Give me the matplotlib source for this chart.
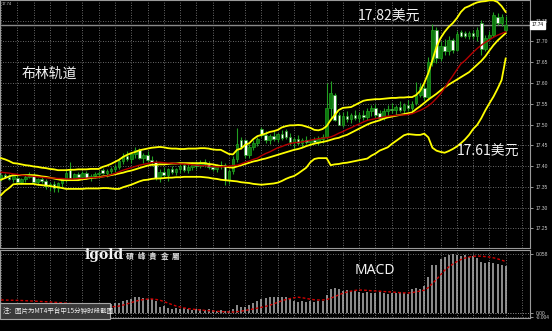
import numpy as np
import matplotlib
matplotlib.use('Agg')
import matplotlib.pyplot as plt
from matplotlib.patches import Rectangle
import matplotlib.transforms as mtransforms

plt.rcParams['font.family'] = ['Noto Sans CJK SC', 'DejaVu Sans']

##------------------------------------------
# XAGUSD M15 candles (15 Jun - 16 Jun)
opens = [17.372, 17.378, 17.374, 17.369, 17.372, 17.362, 17.368, 17.374, 17.379, 17.362,
         17.368, 17.364, 17.351, 17.357, 17.346, 17.358, 17.368, 17.390, 17.372, 17.380,
         17.374, 17.383, 17.371, 17.376, 17.381, 17.391, 17.384, 17.388, 17.394, 17.398,
         17.412, 17.424, 17.418, 17.428, 17.439, 17.420, 17.426, 17.415, 17.410, 17.371,
         17.386, 17.378, 17.392, 17.386, 17.392, 17.403, 17.391, 17.398, 17.404, 17.400,
         17.410, 17.404, 17.398, 17.394, 17.402, 17.403, 17.366, 17.388, 17.418, 17.463,
         17.463, 17.427, 17.446, 17.456, 17.489, 17.475, 17.462, 17.472, 17.466, 17.476,
         17.484, 17.470, 17.458, 17.464, 17.456, 17.462, 17.458, 17.462, 17.458, 17.466,
         17.470, 17.540, 17.571, 17.523, 17.500, 17.520, 17.514, 17.522, 17.516, 17.524,
         17.518, 17.532, 17.540, 17.527, 17.516, 17.532, 17.538, 17.534, 17.542, 17.536,
         17.546, 17.540, 17.552, 17.572, 17.588, 17.566, 17.650, 17.728, 17.660, 17.690,
         17.676, 17.703, 17.680, 17.722, 17.720, 17.712, 17.720, 17.712, 17.745, 17.682,
         17.708, 17.716, 17.760, 17.744, 17.728]
highs = [17.381, 17.384, 17.380, 17.378, 17.380, 17.372, 17.378, 17.386, 17.383, 17.372,
         17.376, 17.368, 17.362, 17.365, 17.362, 17.372, 17.390, 17.410, 17.384, 17.386,
         17.388, 17.388, 17.380, 17.386, 17.388, 17.395, 17.392, 17.398, 17.404, 17.420,
         17.432, 17.436, 17.434, 17.446, 17.444, 17.432, 17.436, 17.424, 17.414, 17.392,
         17.398, 17.395, 17.400, 17.396, 17.404, 17.408, 17.404, 17.410, 17.412, 17.414,
         17.418, 17.412, 17.406, 17.406, 17.412, 17.408, 17.392, 17.425, 17.492, 17.470,
         17.466, 17.452, 17.462, 17.470, 17.494, 17.484, 17.478, 17.484, 17.480, 17.486,
         17.488, 17.480, 17.470, 17.474, 17.468, 17.472, 17.466, 17.470, 17.472, 17.476,
         17.600, 17.605, 17.575, 17.530, 17.530, 17.532, 17.528, 17.536, 17.530, 17.534,
         17.540, 17.548, 17.550, 17.534, 17.540, 17.546, 17.552, 17.548, 17.556, 17.552,
         17.558, 17.556, 17.602, 17.600, 17.598, 17.662, 17.742, 17.735, 17.700, 17.705,
         17.712, 17.708, 17.725, 17.728, 17.726, 17.724, 17.728, 17.735, 17.752, 17.716,
         17.724, 17.770, 17.768, 17.765, 17.762]
lows = [17.365, 17.370, 17.366, 17.362, 17.360, 17.357, 17.362, 17.370, 17.358, 17.355,
        17.360, 17.345, 17.340, 17.338, 17.337, 17.350, 17.362, 17.368, 17.366, 17.368,
        17.370, 17.368, 17.363, 17.370, 17.372, 17.380, 17.374, 17.380, 17.386, 17.392,
        17.404, 17.412, 17.408, 17.420, 17.416, 17.408, 17.410, 17.400, 17.366, 17.362,
        17.370, 17.364, 17.380, 17.378, 17.384, 17.386, 17.384, 17.390, 17.394, 17.396,
        17.398, 17.392, 17.388, 17.386, 17.394, 17.354, 17.356, 17.380, 17.410, 17.440,
        17.420, 17.420, 17.438, 17.448, 17.470, 17.456, 17.454, 17.460, 17.458, 17.462,
        17.466, 17.450, 17.444, 17.450, 17.446, 17.452, 17.448, 17.452, 17.450, 17.456,
        17.466, 17.510, 17.508, 17.500, 17.494, 17.506, 17.504, 17.510, 17.506, 17.512,
        17.512, 17.520, 17.516, 17.512, 17.510, 17.520, 17.528, 17.524, 17.530, 17.528,
        17.532, 17.530, 17.548, 17.566, 17.560, 17.560, 17.640, 17.648, 17.652, 17.668,
        17.668, 17.672, 17.676, 17.710, 17.708, 17.706, 17.706, 17.700, 17.667, 17.676,
        17.700, 17.710, 17.740, 17.738, 17.722]
closes = [17.378, 17.374, 17.369, 17.375, 17.362, 17.368, 17.374, 17.382, 17.362, 17.368,
          17.365, 17.351, 17.357, 17.346, 17.358, 17.368, 17.384, 17.372, 17.380, 17.374,
          17.383, 17.371, 17.376, 17.381, 17.384, 17.384, 17.388, 17.394, 17.398, 17.412,
          17.424, 17.418, 17.428, 17.439, 17.420, 17.426, 17.415, 17.410, 17.371, 17.386,
          17.378, 17.392, 17.386, 17.392, 17.400, 17.391, 17.398, 17.404, 17.400, 17.410,
          17.404, 17.398, 17.394, 17.402, 17.403, 17.366, 17.388, 17.418, 17.452, 17.446,
          17.427, 17.446, 17.456, 17.466, 17.475, 17.462, 17.472, 17.466, 17.476, 17.468,
          17.470, 17.458, 17.464, 17.456, 17.462, 17.458, 17.462, 17.458, 17.466, 17.470,
          17.540, 17.575, 17.512, 17.500, 17.520, 17.514, 17.522, 17.516, 17.524, 17.518,
          17.532, 17.540, 17.522, 17.516, 17.532, 17.538, 17.534, 17.542, 17.536, 17.546,
          17.540, 17.550, 17.572, 17.590, 17.566, 17.650, 17.728, 17.660, 17.690, 17.676,
          17.703, 17.680, 17.718, 17.714, 17.712, 17.720, 17.712, 17.728, 17.682, 17.708,
          17.716, 17.764, 17.744, 17.758, 17.740]

# Bollinger bands (yellow) and moving average (red)
bb_upper = [17.419, 17.416, 17.412, 17.407, 17.406, 17.404, 17.402, 17.401, 17.399, 17.398,
            17.396, 17.395, 17.393, 17.392, 17.390, 17.390, 17.390, 17.391, 17.391, 17.392,
            17.392, 17.392, 17.393, 17.393, 17.393, 17.398, 17.401, 17.405, 17.410, 17.415,
            17.422, 17.427, 17.431, 17.434, 17.438, 17.440, 17.442, 17.444, 17.445, 17.446,
            17.445, 17.443, 17.442, 17.442, 17.441, 17.441, 17.442, 17.442, 17.442, 17.443,
            17.443, 17.442, 17.440, 17.439, 17.439, 17.434, 17.429, 17.428, 17.439, 17.442,
            17.451, 17.455, 17.465, 17.472, 17.475, 17.478, 17.482, 17.484, 17.487, 17.493,
            17.496, 17.498, 17.498, 17.499, 17.498, 17.495, 17.492, 17.487, 17.486, 17.489,
            17.496, 17.511, 17.523, 17.535, 17.540, 17.541, 17.542, 17.547, 17.552, 17.557,
            17.559, 17.560, 17.561, 17.561, 17.562, 17.563, 17.564, 17.564, 17.565, 17.565,
            17.566, 17.566, 17.571, 17.581, 17.600, 17.624, 17.655, 17.687, 17.708, 17.723,
            17.735, 17.744, 17.756, 17.771, 17.781, 17.785, 17.790, 17.794, 17.796, 17.797,
            17.799, 17.799, 17.795, 17.785, 17.771]
bb_mid = [17.367, 17.371, 17.375, 17.378, 17.378, 17.378, 17.378, 17.378, 17.378, 17.377,
          17.375, 17.374, 17.372, 17.370, 17.368, 17.366, 17.366, 17.366, 17.366, 17.366,
          17.368, 17.369, 17.371, 17.372, 17.373, 17.375, 17.376, 17.378, 17.380, 17.382,
          17.384, 17.387, 17.389, 17.392, 17.395, 17.398, 17.401, 17.403, 17.403, 17.404,
          17.404, 17.405, 17.406, 17.406, 17.407, 17.407, 17.407, 17.407, 17.407, 17.407,
          17.407, 17.405, 17.404, 17.402, 17.400, 17.399, 17.397, 17.396, 17.399, 17.402,
          17.405, 17.408, 17.411, 17.413, 17.416, 17.418, 17.421, 17.424, 17.427, 17.430,
          17.433, 17.436, 17.439, 17.441, 17.444, 17.448, 17.451, 17.454, 17.456, 17.458,
          17.460, 17.463, 17.466, 17.468, 17.472, 17.475, 17.480, 17.485, 17.490, 17.495,
          17.500, 17.504, 17.507, 17.510, 17.514, 17.517, 17.519, 17.521, 17.523, 17.525,
          17.527, 17.529, 17.537, 17.544, 17.552, 17.560, 17.567, 17.574, 17.582, 17.589,
          17.596, 17.602, 17.608, 17.614, 17.620, 17.626, 17.635, 17.644, 17.653, 17.664,
          17.678, 17.691, 17.702, 17.711, 17.720]
bb_lower = [17.330, 17.340, 17.347, 17.356, 17.357, 17.357, 17.357, 17.357, 17.357, 17.355,
            17.354, 17.353, 17.352, 17.350, 17.349, 17.347, 17.345, 17.345, 17.345, 17.345,
            17.345, 17.346, 17.346, 17.346, 17.346, 17.347, 17.347, 17.346, 17.345, 17.345,
            17.349, 17.352, 17.355, 17.359, 17.363, 17.366, 17.367, 17.369, 17.370, 17.370,
            17.371, 17.372, 17.372, 17.373, 17.373, 17.374, 17.374, 17.374, 17.374, 17.374,
            17.373, 17.372, 17.370, 17.369, 17.367, 17.366, 17.365, 17.364, 17.363, 17.361,
            17.360, 17.359, 17.357, 17.356, 17.355, 17.356, 17.357, 17.358, 17.360, 17.364,
            17.369, 17.373, 17.376, 17.382, 17.389, 17.396, 17.409, 17.417, 17.419, 17.419,
            17.419, 17.402, 17.404, 17.405, 17.407, 17.408, 17.410, 17.412, 17.414, 17.416,
            17.418, 17.425, 17.430, 17.437, 17.441, 17.445, 17.453, 17.460, 17.467, 17.474,
            17.477, 17.476, 17.475, 17.475, 17.478, 17.469, 17.444, 17.437, 17.434, 17.432,
            17.436, 17.441, 17.447, 17.455, 17.464, 17.475, 17.489, 17.499, 17.515, 17.534,
            17.551, 17.567, 17.586, 17.607, 17.659]
ma_red = [17.385, 17.384, 17.383, 17.381, 17.380, 17.378, 17.377, 17.376, 17.375, 17.374,
          17.373, 17.372, 17.371, 17.371, 17.370, 17.370, 17.369, 17.369, 17.369, 17.370,
          17.370, 17.371, 17.372, 17.372, 17.373, 17.374, 17.376, 17.379, 17.382, 17.386,
          17.390, 17.393, 17.396, 17.399, 17.402, 17.404, 17.406, 17.408, 17.409, 17.409,
          17.408, 17.407, 17.407, 17.406, 17.405, 17.405, 17.404, 17.403, 17.402, 17.401,
          17.401, 17.400, 17.399, 17.398, 17.398, 17.399, 17.400, 17.401, 17.402, 17.405,
          17.409, 17.412, 17.416, 17.419, 17.425, 17.430, 17.434, 17.439, 17.444, 17.447,
          17.451, 17.454, 17.456, 17.457, 17.458, 17.460, 17.462, 17.464, 17.466, 17.467,
          17.468, 17.470, 17.474, 17.479, 17.483, 17.488, 17.492, 17.497, 17.501, 17.506,
          17.510, 17.512, 17.514, 17.516, 17.518, 17.520, 17.521, 17.522, 17.523, 17.523,
          17.524, 17.526, 17.530, 17.534, 17.539, 17.545, 17.553, 17.563, 17.574, 17.588,
          17.603, 17.617, 17.632, 17.646, 17.654, 17.664, 17.674, 17.683, 17.691, 17.698,
          17.704, 17.710, 17.715, 17.719, 17.723]

# MACD window
macd_hist = [0.009, 0.010, 0.009, 0.008, 0.009, 0.008, 0.007, 0.008, 0.007, 0.006,
             0.007, 0.006, 0.005, 0.006, 0.005, 0.006, 0.005, 0.006, 0.007, 0.006,
             0.007, 0.006, 0.007, 0.008, 0.007, 0.008, 0.008, 0.009,
             0.0098, 0.010, 0.0118, 0.013, 0.014, 0.0157, 0.0157, 0.015, 0.0138, 0.0138, 0.012, 0.006,
             0.007, 0.005, 0.004, 0.0045, 0.004, 0.005, 0.004, 0.003, 0.004, 0.0035,
             0.003, 0.004, 0.003, 0.002, 0.003, 0.0015, 0.002, 0.004, 0.008, 0.006,
             0.006, 0.008, 0.010, 0.012, 0.014, 0.015, 0.016, 0.0157, 0.016, 0.0155,
             0.016, 0.015, 0.012, 0.011, 0.012, 0.011, 0.012, 0.011, 0.012, 0.012,
             0.018, 0.024, 0.025, 0.024, 0.022, 0.023, 0.022, 0.022, 0.021, 0.020,
             0.021, 0.020, 0.020, 0.021, 0.020, 0.019, 0.020, 0.020, 0.021, 0.020,
             0.019, 0.024, 0.025, 0.024, 0.027, 0.035, 0.047, 0.047, 0.053, 0.055,
             0.057, 0.058, 0.057, 0.056, 0.057, 0.055, 0.056, 0.054, 0.050, 0.049,
             0.050, 0.049, 0.048, 0.047, 0.046]
macd_signal = [0.0128, 0.0127, 0.0126, 0.0125, 0.0124, 0.0123, 0.0121, 0.0119, 0.0117, 0.0115,
               0.0113, 0.0111, 0.0108, 0.0106, 0.0103, 0.0100, 0.0097, 0.0094, 0.0091, 0.0088,
               0.0085, 0.0082, 0.0079, 0.0076, 0.0072, 0.0068, 0.0065, 0.0062, 0.0063, 0.0068,
               0.0078, 0.0090, 0.0102, 0.0115, 0.0125, 0.0132, 0.0137, 0.0138, 0.0134, 0.0126,
               0.0113, 0.0098, 0.0083, 0.0069, 0.0059, 0.0050, 0.0043, 0.0038, 0.0034, 0.0030,
               0.0026, 0.0023, 0.0020, 0.0017, 0.0014, 0.0012, 0.0010, 0.0010, 0.0013, 0.0018,
               0.0025, 0.0032, 0.0040, 0.0048, 0.0056, 0.0065, 0.0076, 0.0090, 0.0105, 0.0120,
               0.0132, 0.0142, 0.0150, 0.0155, 0.0150, 0.0143, 0.0136, 0.0130, 0.0128, 0.0128,
               0.0132, 0.0145, 0.0162, 0.0178, 0.0194, 0.0206, 0.0215, 0.0222, 0.0226, 0.0225,
               0.0222, 0.0219, 0.0217, 0.0214, 0.0211, 0.0209, 0.0206, 0.0203, 0.0200, 0.0198,
               0.0197, 0.0200, 0.0208, 0.0216, 0.0224, 0.0250, 0.0290, 0.0330, 0.0375, 0.0420,
               0.0452, 0.0480, 0.0505, 0.0525, 0.0540, 0.0550, 0.0556, 0.0560, 0.0558, 0.0554,
               0.0550, 0.0542, 0.0532, 0.0520, 0.0505]

price_ticks = [17.25, 17.30, 17.35, 17.40, 17.45, 17.50, 17.55, 17.60, 17.65, 17.70, 17.75]
last_price = 17.74
time_bars = [28, 36, 44, 52, 60, 68, 76, 84, 92, 100, 108, 116, 124]
time_labels = ['15 Jun 13:00', '15 Jun 15:00', '15 Jun 17:00', '15 Jun 19:00', '15 Jun 21:00',
               '15 Jun 23:00', '16 Jun 01:00', '16 Jun 03:00', '16 Jun 05:45', '16 Jun 07:45',
               '16 Jun 09:45', '16 Jun 11:45', '16 Jun 13:45']

#------------------------------------------------------------
W, H = 552, 331
def fx(px): return px / W
def fy(py): return 1 - py / H

GRID = '#8c8c8c'
FRAME = '#9a9a9a'
TXT = '#cfcfcf'
WICK = '#22a022'

fig = plt.figure(figsize=(W / 100, H / 100), dpi=100, facecolor='black')
ax = fig.add_axes([0, fy(248), fx(530), 248 / H], facecolor='black')
ax2 = fig.add_axes([0, fy(318), fx(530), 68 / H], facecolor='black')

idx = np.arange(len(closes))
o = np.array(opens); h = np.array(highs); l = np.array(lows); c = np.array(closes)

xlim = (-1 / 4.07, 529 / 4.07)
for a in (ax, ax2):
    a.set_xlim(*xlim)
    a.set_xticks(np.arange(0, len(closes) + 4, 4))
    a.set_axisbelow(True)
    a.grid(True, color=GRID, linestyle=(0, (1, 2)), linewidth=0.6)
    for s in a.spines.values():
        s.set_color(FRAME)
        s.set_linewidth(0.8)

ax.set_ylim(17.7998 - 248 * 0.002408, 17.7998)

# candles
ax.vlines(idx, l, h, color=WICK, lw=0.8, zorder=3)
for i in idx:
    bull = c[i] >= o[i]
    lo = min(o[i], c[i])
    hgt = max(abs(c[i] - o[i]), 0.0015)
    ax.add_patch(Rectangle((i - 0.32, lo), 0.64, hgt,
                           facecolor='#0d7a0d' if bull else 'white',
                           edgecolor=WICK, lw=0.5, zorder=4))

ax.plot(idx, bb_upper, color='#ffff00', lw=1.3, zorder=5)
ax.plot(idx, bb_mid, color='#ffff00', lw=1.3, zorder=5)
ax.plot(idx, bb_lower, color='#ffff00', lw=1.3, zorder=5)
ax.plot(idx, ma_red, color='#b40000', lw=1.0, zorder=6)

ax.axhline(last_price, color='#8a8a8a', lw=1.0, zorder=2)
trans = mtransforms.blended_transform_factory(ax.transAxes, ax.transData)
ax.text(1.003, last_price, '17.74', transform=trans, fontsize=3.4, color='black',
        family='Liberation Sans', va='center', ha='left',
        bbox=dict(boxstyle='square,pad=0.25', fc='white', ec='white'), zorder=10, clip_on=False)

ax.yaxis.tick_right()
ax.set_yticks(price_ticks)
ax.set_yticklabels(['%.2f' % p for p in price_ticks], family='Liberation Sans')
ax.tick_params(axis='y', labelsize=3.5, colors=TXT, length=2, width=0.5, pad=2)
ax.tick_params(axis='x', length=0, labelbottom=False)

# MACD
ax2.set_ylim(-0.0049, 0.0619)
ax2.vlines(idx, 0, macd_hist, color='#b4b4b4', lw=1.1, zorder=3)
ax2.plot(idx, macd_signal, color='#d00000', lw=1.0, linestyle=(0, (2, 1.5)), zorder=4)
ax2.axhline(0, color=GRID, lw=0.6, linestyle=(0, (1, 2)))
ax2.yaxis.tick_right()
ax2.set_yticks([0.058, 0.0, -0.004])
ax2.set_yticklabels(['0.058', '0.00', '-0.004'], family='Liberation Sans')
ax2.tick_params(axis='y', labelsize=3.5, colors=TXT, length=2, width=0.5, pad=2)
ax2.set_xticks(time_bars, minor=True)
ax2.set_xticklabels(time_labels, minor=True, family='Liberation Sans', ha='left')
ax2.tick_params(axis='x', which='major', length=0, labelbottom=False)
ax2.tick_params(axis='x', which='minor', labelsize=3.2, colors=TXT, length=2, width=0.5, pad=1.5)

# annotations
WHITE = '#f2f2f2'
fig.text(fx(22), fy(74), '布林轨道', fontsize=10, color=WHITE, va='center', ha='left')
fig.text(fx(358), fy(17), '17.82美元', fontsize=10, color=WHITE, va='center', ha='left')
fig.text(fx(457), fy(152), '17.61美元', fontsize=10, color=WHITE, va='center', ha='left')
fig.text(fx(355), fy(271), 'MACD', fontsize=10, color=WHITE, va='center', ha='left',
         family='Noto Sans')
fig.text(fx(1.5), fy(4), '17.74', fontsize=3.0, color=TXT, va='center', ha='left',
         family='Liberation Sans')

# igold logo
fig.text(fx(85), fy(255), 'igold', fontsize=10, color=WHITE, fontweight='bold',
         family='DejaVu Serif', va='center', ha='left')
for k, ch in enumerate('碩峰貴金屬'):
    fig.text(fx(126 + 11.5 * k), fy(256), ch, fontsize=5.5, color='#e0e0e0',
             fontweight='bold', family=['Noto Sans CJK TC', 'DejaVu Sans'],
             va='center', ha='left')

# note box
box = Rectangle((fx(0), fy(319)), fx(110), 16 / H, transform=fig.transFigure,
                facecolor='#3a3a3a', edgecolor='#a8a8a8', lw=0.8, zorder=20)
fig.patches.append(box)
fig.text(fx(3), fy(311), '注：图片为MT4平台中15分钟时段截图', fontsize=4.7, color=WHITE,
         va='center', ha='left', zorder=21)

fig.savefig('out.png', dpi=100, facecolor='black')
